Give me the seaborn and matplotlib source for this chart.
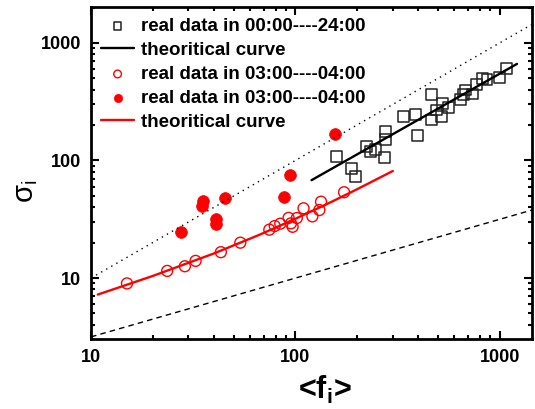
import numpy as np
import pandas as pd
import matplotlib
matplotlib.use("Agg")
import matplotlib.pyplot as plt
import seaborn as sns
from matplotlib.ticker import LogLocator, NullFormatter, FixedLocator, FixedFormatter

# ---------------- data ----------------
sq_x = [159, 188, 197, 222, 233, 247, 273, 276, 276, 340, 387, 395, 466, 466, 490,
        518, 524, 564, 642, 679, 668, 740, 769, 823, 867, 1000, 1078]
sq_y = [109, 85, 73, 131, 119, 125, 107, 178, 152, 236, 244, 162, 361, 221, 269,
        236, 307, 281, 332, 398, 361, 368, 445, 501, 491, 507, 609]

blk_x = [120, 1216]
blk_y = [68, 663]

oc_x = [15.0, 23.6, 28.8, 32.5, 43.2, 53.8, 74.6, 79.3, 84.4, 92.7, 95.2, 97.0,
        101.7, 109.7, 121.2, 131.1, 133.6, 173.2]
oc_y = [9.0, 11.5, 12.6, 14.0, 16.6, 20.0, 25.8, 27.7, 29.0, 32.5, 29.2, 27.3,
        32.4, 39.2, 33.5, 37.9, 44.6, 53.7]

fc_x = [27.5, 35.3, 34.9, 45.4, 41.0, 40.7, 88.3, 94.2, 156.5]
fc_y = [24.5, 44.8, 41.4, 47.7, 32.1, 29.1, 48.9, 76.0, 168.1]

red_x = [10.8, 20, 40, 66.6, 100, 150, 200, 300]
red_y = [7.24, 10.4, 16.2, 23.3, 31.9, 44.4, 56.8, 81.4]

ref_x = [10, 1440]
dot_y = [10, 1440]          # y = x
dash_y = [3.16, 37.9]       # y = x^0.5

labels = ["real data in 00:00----24:00", "theoritical curve",
          "real data in 03:00----04:00", "real data in 03:00----04:00",
          "theoritical curve"]

# ---------------- style ----------------
sns.set_style("ticks")
plt.rcParams["font.family"] = ["Liberation Sans", "DejaVu Sans"]
plt.rcParams["mathtext.fontset"] = "custom"
plt.rcParams["mathtext.rm"] = "Liberation Sans"
plt.rcParams["mathtext.bf"] = "Liberation Sans:bold"
plt.rcParams["mathtext.it"] = "Liberation Sans:italic"
for k in ["text.color", "axes.labelcolor", "xtick.color", "ytick.color",
          "axes.edgecolor"]:
    plt.rcParams[k] = "black"

fig = plt.figure(figsize=(5.35, 4.09), dpi=100)
ax = fig.add_axes([0.1701, 0.1711, 0.8243, 0.8117])
ax.set_xscale("log")
ax.set_yscale("log")

# reference lines
sns.lineplot(x=ref_x, y=dot_y, ax=ax, color="black", lw=1.0,
             linestyle=(0, (1, 3.2)), legend=False, label="_nolegend_")
sns.lineplot(x=ref_x, y=dash_y, ax=ax, color="black", lw=1.0,
             linestyle=(0, (4, 3)), legend=False, label="_nolegend_")

sns.scatterplot(x=sq_x, y=sq_y, ax=ax, marker="s", s=62, facecolor="none",
                edgecolor="#222222", linewidth=1.1, label=labels[0])
sns.lineplot(x=blk_x, y=blk_y, ax=ax, color="black", lw=1.7, label=labels[1],
             estimator=None, sort=False)
sns.scatterplot(x=oc_x, y=oc_y, ax=ax, marker="o", s=62, facecolor="none",
                edgecolor="red", linewidth=1.0, label=labels[2])
sns.scatterplot(x=fc_x, y=fc_y, ax=ax, marker="o", s=72, color="red",
                edgecolor="red", linewidth=0.5, label=labels[3])
sns.lineplot(x=red_x, y=red_y, ax=ax, color="red", lw=1.7, label=labels[4],
             estimator=None, sort=False)

ax.set_xlim(10, 1440)
ax.set_ylim(3.03, 2020)

ax.xaxis.set_major_locator(FixedLocator([10, 100, 1000]))
ax.xaxis.set_major_formatter(FixedFormatter(["10", "100", "1000"]))
ax.yaxis.set_major_locator(FixedLocator([10, 100, 1000]))
ax.yaxis.set_major_formatter(FixedFormatter(["10", "100", "1000"]))
for a in (ax.xaxis, ax.yaxis):
    a.set_minor_locator(LogLocator(base=10, subs=np.arange(2, 10), numticks=20))
    a.set_minor_formatter(NullFormatter())

ax.tick_params(which="both", direction="in", top=True, right=True, width=1.5)
ax.tick_params(which="major", length=5.5, labelsize=13, pad=7)
ax.tick_params(which="minor", length=3)
for lab in ax.get_xticklabels() + ax.get_yticklabels():
    lab.set_fontweight("bold")
for sp in ax.spines.values():
    sp.set_linewidth(2.0)

ax.set_xlabel("<f$_{\\mathbf{i}}$>", fontsize=22, fontweight="bold")
ax.xaxis.set_label_coords(0.531, -0.105)
ax.set_ylabel("σ$_{\\mathregular{i}}$", fontsize=21)
ax.yaxis.set_label_coords(-0.115, 0.446)

h, l = ax.get_legend_handles_labels()
leg = ax.legend(h, l, loc="upper left", bbox_to_anchor=(0.022, 0.968),
                frameon=False, borderpad=0, borderaxespad=0,
                prop={"weight": "bold", "size": 13.5}, handlelength=1.8,
                handletextpad=0.35, labelspacing=0.37, markerscale=0.7)

fig.savefig("out.png", dpi=100)
